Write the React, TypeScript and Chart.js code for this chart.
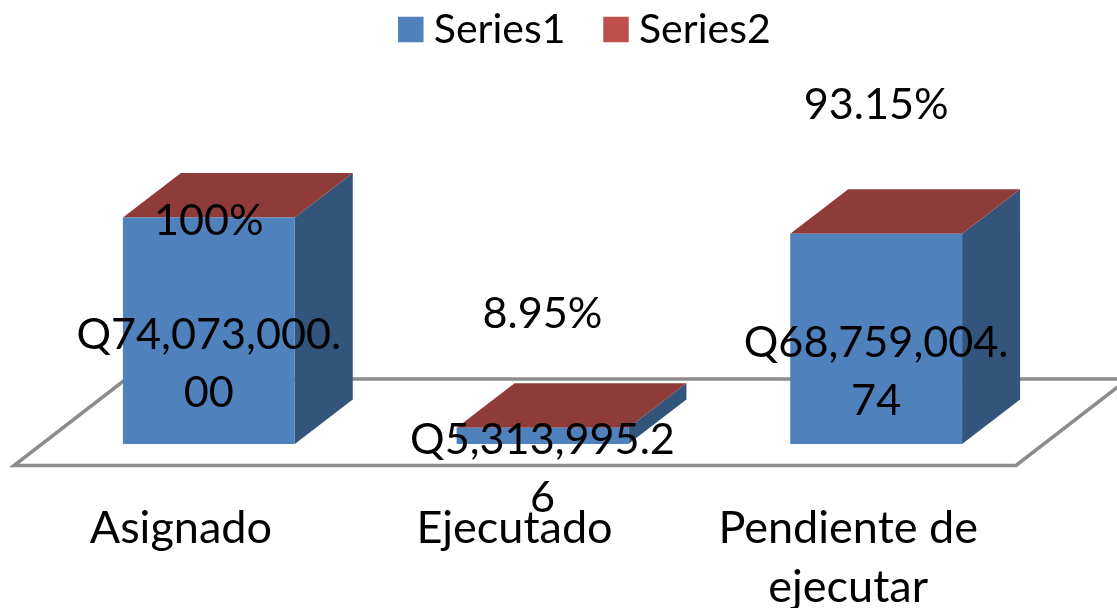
import React, { useEffect, useRef } from "react";
import { Chart, registerables } from "chart.js";

Chart.register(...registerables);

const categories = ["Asignado", "Ejecutado", ["Pendiente de", "ejecutar"]];
const series1Values = [74073000, 5313995.26, 68759004.74];
const series2Values = [1, 0.0895, 0.9315];
const series1Labels = [["Q74,073,000.", "00"], ["Q5,313,995.2", "6"], ["Q68,759,004.", "74"]];
const series2Labels = ["100%", "8.95%", "93.15%"];

const FONT = "Lato, Carlito, Calibri, sans-serif";
const depthX = 58;
const depthY = 44.5;

const cube3d = {
  id: "cube3d",
  afterLayout(chart: any, _args: any, opts: any) {
    chart.legend.top = -39;
    chart.legend.left += opts.legendShift;
    chart.legend.right += opts.legendShift;
  },
  beforeDatasetsDraw(chart: any) {
    const { ctx, chartArea: a } = chart;
    const fb = a.bottom + 21.5;
    const fl = a.left - 28;
    const fr = a.right - 27;
    ctx.save();
    ctx.beginPath();
    ctx.moveTo(fl, fb);
    ctx.lineTo(fr, fb);
    ctx.lineTo(fr + 112, fb - 86.5);
    ctx.lineTo(fl + 112, fb - 86.5);
    ctx.closePath();
    ctx.fillStyle = "#ffffff";
    ctx.fill();
    ctx.strokeStyle = "#8C8C8C";
    ctx.lineWidth = 3.5;
    ctx.lineJoin = "miter";
    ctx.stroke();

    const lower = chart.getDatasetMeta(0).data;
    const upper = chart.getDatasetMeta(1).data;
    lower.forEach((bar: any, i: number) => {
      const l = bar.x - bar.width / 2;
      const r = bar.x + bar.width / 2;
      const t = upper[i].y;
      const b = bar.base;
      ctx.beginPath();
      ctx.moveTo(r, t);
      ctx.lineTo(r + depthX, t - depthY);
      ctx.lineTo(r + depthX, b - depthY);
      ctx.lineTo(r, b);
      ctx.closePath();
      ctx.fillStyle = "#33547B";
      ctx.fill();
      ctx.beginPath();
      ctx.moveTo(l, t);
      ctx.lineTo(l + depthX, t - depthY);
      ctx.lineTo(r + depthX, t - depthY);
      ctx.lineTo(r, t);
      ctx.closePath();
      ctx.fillStyle = "#8E3B3A";
      ctx.fill();
    });
    ctx.restore();
  },
  afterDatasetsDraw(chart: any, _args: any, opts: any) {
    const { ctx } = chart;
    const lower = chart.getDatasetMeta(0).data;
    const upper = chart.getDatasetMeta(1).data;
    ctx.save();
    ctx.fillStyle = "#000000";
    ctx.font = `43.2px ${FONT}`;
    ctx.textAlign = "center";
    ctx.textBaseline = "middle";
    lower.forEach((bar: any, i: number) => {
      const mid = (bar.y + bar.base) / 2 + opts.series1Drop;
      const lines = series1Labels[i];
      lines.forEach((line, k) => {
        ctx.fillText(line, bar.x, mid + (k - (lines.length - 1) / 2) * opts.lineHeight);
      });
      ctx.fillText(series2Labels[i], bar.x, upper[i].y + opts.series2Drop[i]);
    });
    ctx.restore();
  },
};

export default function App() {
  const ref = useRef<HTMLCanvasElement>(null);
  useEffect(() => {
    const chart = new Chart(ref.current as HTMLCanvasElement, {
      type: "bar",
      plugins: [cube3d],
      data: {
        labels: categories as any,
        datasets: [
          { label: "Series1", data: series1Values, backgroundColor: "#4F81BD", barPercentage: 0.515, categoryPercentage: 1 },
          { label: "Series2", data: series2Values, backgroundColor: "#C0504D", barPercentage: 0.515, categoryPercentage: 1 },
        ],
      },
      options: {
        responsive: false,
        animation: false,
        layout: { padding: { left: 42, right: 74, top: 8.6, bottom: 0 } },
        plugins: {
          tooltip: { enabled: false },
          cube3d: { series1Drop: 33, lineHeight: 58, series2Drop: [4, -114, -129], legendShift: 47 },
          legend: {
            position: "top",
            labels: {
              usePointStyle: true,
              pointStyle: "rect",
              boxWidth: 5,
              boxHeight: 25.5,
              padding: 48,
              color: "#000000",
              font: { family: FONT, size: 41 },
            },
          },
        } as any,
        scales: {
          x: {
            stacked: true,
            grid: { display: false, drawTicks: false },
            border: { display: false },
            afterFit(scale: any) {
              scale.height = 164;
            },
            ticks: {
              color: "#000000",
              font: { family: FONT, size: 45, lineHeight: 1.31 },
              padding: 55,
              labelOffset: -28,
              maxRotation: 0,
              minRotation: 0,
              autoSkip: false,
            },
          },
          y: { stacked: true, display: false, min: 0, max: 110000000 },
        },
      },
    });
    return () => chart.destroy();
  }, []);
  return (
    <div style={{ position: "fixed", left: 0, top: 0, width: 1117, height: 608, overflow: "hidden", background: "#fff" }}>
      <canvas ref={ref} width={1117} height={608} style={{ display: "block" }} />
    </div>
  );
}
